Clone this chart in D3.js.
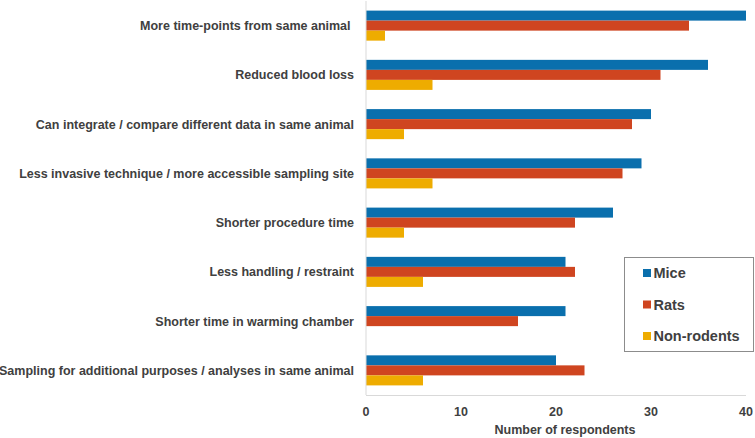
<!DOCTYPE html>
<html>
<head>
<meta charset="utf-8">
<script src="https://cdn.jsdelivr.net/npm/d3@7"></script>
<style>
  body { margin: 0; background: #fff; }
  text { font-family: "Liberation Sans", Arial, sans-serif; font-weight: bold; fill: #404040; }
</style>
</head>
<body>
<div id="chart"></div>
<script>
// survey data
const categories = [
  "More time-points from same animal",
  "Reduced blood loss",
  "Can integrate / compare different data in same animal",
  "Less invasive technique / more accessible sampling site",
  "Shorter procedure time",
  "Less handling / restraint",
  "Shorter time in warming chamber",
  "Sampling for additional purposes / analyses in same animal"
];
const series = ["Mice", "Rats", "Non-rodents"];
const mice = [40, 36, 30, 29, 26, 21, 21, 20];
const rats = [34, 31, 28, 27, 22, 22, 16, 23];
const nonRodents = [2, 7, 4, 7, 4, 6, 0, 6];
const xTicks = [0, 10, 20, 30, 40];
const colors = ["#0a6fad", "#cf4520", "#eeac00"];

const W = 755, H = 438;
const plotL = 366, plotR = 746, plotT = 1, plotB = 395;

const svg = d3.select("#chart").append("svg")
  .attr("width", W)
  .attr("height", H);

const x = d3.scaleLinear().domain([0, 40]).range([plotL, plotR]);
const y = d3.scaleBand().domain(categories).range([plotT, plotB])
  .paddingInner(0.39).paddingOuter(0.195);
const ySub = d3.scaleBand().domain(series).range([0, y.bandwidth()]);

const values = [mice, rats, nonRodents];
const rows = categories.map((c, i) => ({
  cat: c,
  vals: series.map((s, j) => ({ s: s, v: values[j][i], col: colors[j] }))
}));

// bars
const g = svg.selectAll(".grp").data(rows).enter().append("g")
  .attr("transform", d => "translate(0," + y(d.cat) + ")");
g.selectAll("rect").data(d => d.vals).enter().append("rect")
  .attr("x", x(0))
  .attr("y", d => ySub(d.s))
  .attr("width", d => x(d.v) - x(0))
  .attr("height", ySub.bandwidth())
  .attr("fill", d => d.col);

// axes lines
svg.append("line")
  .attr("x1", x(0)).attr("x2", x(0))
  .attr("y1", plotT).attr("y2", plotB)
  .attr("stroke", "#d9d9d9").attr("stroke-width", 1);
svg.append("line")
  .attr("x1", x(0)).attr("x2", plotR)
  .attr("y1", plotB + 0.5).attr("y2", plotB + 0.5)
  .attr("stroke", "#d9d9d9").attr("stroke-width", 1);

// category labels
svg.selectAll(".cat").data(categories).enter().append("text")
  .attr("x", 354)
  .attr("y", d => y(d) + y.bandwidth() / 2)
  .attr("dy", "0.35em")
  .attr("text-anchor", "end")
  .style("font-size", "12.5px")
  .text((d, i) => i === 0 ? d + "\u00a0" : d);

// x tick labels
svg.selectAll(".tick").data(xTicks).enter().append("text")
  .attr("x", d => x(d))
  .attr("y", 412)
  .attr("dy", "0.35em")
  .attr("text-anchor", "middle")
  .style("font-size", "12.5px")
  .text(d => d);

svg.append("text")
  .attr("x", 565)
  .attr("y", 430)
  .attr("dy", "0.35em")
  .attr("text-anchor", "middle")
  .style("font-size", "12.5px")
  .text("Number of respondents");

// legend
const leg = svg.append("g");
leg.append("rect")
  .attr("x", 624.5).attr("y", 257.5)
  .attr("width", 129).attr("height", 94)
  .attr("fill", "#fff")
  .attr("stroke", "#8c8c8c").attr("stroke-width", 1);
const legY = [273, 304.5, 336];
series.forEach((s, i) => {
  leg.append("rect")
    .attr("x", 643).attr("y", legY[i] - 4)
    .attr("width", 8).attr("height", 8)
    .attr("fill", colors[i]);
  leg.append("text")
    .attr("x", 653.5).attr("y", legY[i])
    .attr("dy", "0.35em")
    .style("font-size", "14.5px")
    .text(s);
});
</script>
</body>
</html>
